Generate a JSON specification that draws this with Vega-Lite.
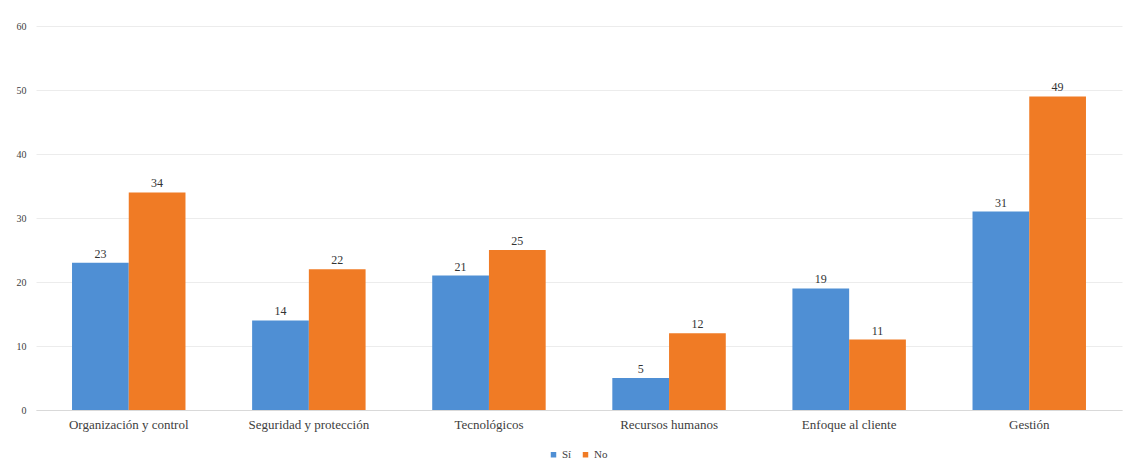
{
  "$schema": "https://vega.github.io/schema/vega-lite/v6.json",
  "width": 1086,
  "height": 384,
  "autosize": "none",
  "padding": {"left": 36, "top": 26, "right": 14, "bottom": 56},
  "background": "white",
  "config": {
    "view": {"stroke": null},
    "font": "Liberation Serif",
    "axis": {"labelFont": "Liberation Serif", "labelColor": "#404040", "labelFontSize": 13},
    "legend": {"labelFont": "Liberation Serif", "labelColor": "#404040", "labelFontSize": 11},
    "text": {"font": "Liberation Serif"}
  },
  "data": {
    "values": [
      {"categoria": "Organización y control", "respuesta": "Sí", "valor": 23},
      {"categoria": "Organización y control", "respuesta": "No", "valor": 34},
      {"categoria": "Seguridad y protección", "respuesta": "Sí", "valor": 14},
      {"categoria": "Seguridad y protección", "respuesta": "No", "valor": 22},
      {"categoria": "Tecnológicos", "respuesta": "Sí", "valor": 21},
      {"categoria": "Tecnológicos", "respuesta": "No", "valor": 25},
      {"categoria": "Recursos humanos", "respuesta": "Sí", "valor": 5},
      {"categoria": "Recursos humanos", "respuesta": "No", "valor": 12},
      {"categoria": "Enfoque al cliente", "respuesta": "Sí", "valor": 19},
      {"categoria": "Enfoque al cliente", "respuesta": "No", "valor": 11},
      {"categoria": "Gestión", "respuesta": "Sí", "valor": 31},
      {"categoria": "Gestión", "respuesta": "No", "valor": 49}
    ]
  },
  "encoding": {
    "x": {
      "field": "categoria",
      "type": "nominal",
      "sort": null,
      "title": null,
      "scale": {"paddingInner": 0.37, "paddingOuter": 0.2},
      "axis": {"labelAngle": 0, "domain": true, "domainColor": "#d9d9d9", "ticks": false, "labelPadding": 8}
    },
    "xOffset": {"field": "respuesta", "type": "nominal", "sort": ["Sí", "No"]},
    "y": {
      "field": "valor",
      "type": "quantitative",
      "title": null,
      "scale": {"domain": [0, 60]},
      "axis": {"values": [0, 10, 20, 30, 40, 50, 60], "domain": false, "ticks": false, "gridColor": "#ececec", "labelPadding": 10, "labelFontSize": 10}
    }
  },
  "layer": [
    {
      "mark": {"type": "bar"},
      "encoding": {
        "color": {
          "field": "respuesta",
          "type": "nominal",
          "sort": ["Sí", "No"],
          "scale": {"domain": ["Sí", "No"], "range": ["#4f8fd4", "#f07b25"]},
          "legend": {"title": null, "orient": "none", "direction": "horizontal", "legendX": 512, "legendY": 423, "symbolType": "square", "symbolSize": 30, "columnPadding": 8, "labelOffset": 3}
        }
      }
    },
    {
      "mark": {"type": "text", "dy": -9, "fontSize": 12, "color": "#333333", "font": "Liberation Serif"},
      "encoding": {"text": {"field": "valor", "type": "quantitative"}}
    }
  ]
}
